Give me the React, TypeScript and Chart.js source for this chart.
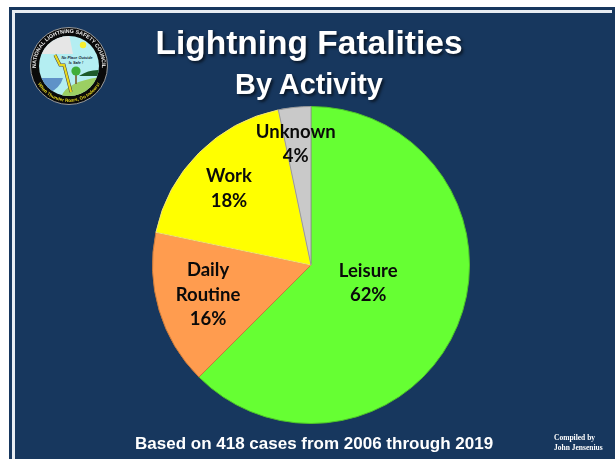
import React, { useEffect, useRef } from "react";
import { Chart, registerables } from "chart.js";

Chart.register(...registerables);

const categories = ["Leisure", "Daily Routine", "Work", "Unknown"];
const shares = [62.5, 15.8, 18.4, 3.3];
const labelLines = [["Leisure", "62%"], ["Daily", "Routine", "16%"], ["Work", "18%"], ["Unknown", "4%"]];
const sliceColors = ["#66FF33", "#FF9C4F", "#FFFF00", "#C9C9C9"];
const sliceEdges = ["#4FC428", "#C9793A", "#F2E27A", "#9A9A9A"];
const titleText = "Lightning Fatalities";
const subtitleText = "By Activity";
const footerText = "Based on 418 cases from 2006 through 2019";
const creditLines = ["Compiled by", "John Jensenius"];

const labelOffsets = [[-16, -24.5], [-27, -5], [-26, -32.5], [-7, -54]];

const sliceLabels = {
  id: "sliceLabels",
  afterDatasetsDraw(chart: any) {
    const { ctx } = chart;
    const arcs = chart.getDatasetMeta(0).data;
    ctx.save();
    ctx.fillStyle = "#0a0a0a";
    ctx.font = 'bold 18.5px Lato, "Noto Sans", sans-serif';
    ctx.textAlign = "center";
    ctx.textBaseline = "middle";
    const lh = 24.5;
    arcs.forEach((arc: any, i: number) => {
      const p = arc.getCenterPoint();
      const lines = labelLines[i];
      const x = p.x + labelOffsets[i][0];
      const y = p.y + labelOffsets[i][1];
      lines.forEach((t, j) => ctx.fillText(t, x, y + j * lh - ((lines.length - 1) * lh) / 2 + 12));
    });
    ctx.restore();
  },
};

const abs = (o: React.CSSProperties): React.CSSProperties => ({ position: "absolute", ...o });

function Logo() {
  return (
    <svg width="80" height="80" viewBox="0 0 80 80" style={abs({ left: 29, top: 26, filter: "blur(0.35px)" })}>
      <defs>
        <clipPath id="inner"><circle cx="40" cy="40" r="30" /></clipPath>
        <path id="arcTop" d="M 10.1 53.9 A 33 33 0 1 1 69.9 53.9" />
        <path id="arcBot" d="M 6.2 52.3 A 36 36 0 0 0 73.8 52.3" />
      </defs>
      <circle cx="40" cy="40" r="38.5" fill="#0a0a0a" stroke="#9a9a9a" strokeWidth="1" />
      <g clipPath="url(#inner)">
        <rect x="0" y="0" width="80" height="80" fill="#b4eef2" />
        <path d="M 13 28 Q 13 16 24 10 L 40 8 L 44 28 Z" fill="#e6e6e6" />
        <circle cx="54" cy="19" r="3.2" fill="#f6ee30" />
        <path d="M 32 72 Q 36 54 80 50 V 80 H 30 Z" fill="#9ccf62" />
        <path d="M 8 52 H 34 Q 31 62 20 67 L 8 62 Z" fill="#5f92c8" />
        <path d="M 50 50 Q 60 43 72 44 V 50 Z" fill="#1d5a2a" />
        <rect x="46.2" y="48" width="1.6" height="10" fill="#7a5a2a" />
        <circle cx="47" cy="45" r="4.6" fill="#3fae3a" />
        <path d="M 26 29 L 31 39 L 35 39 L 42 66" fill="none" stroke="#444" strokeWidth="3.2" />
        <path d="M 26 29 L 31 39 L 35 39 L 42 66" fill="none" stroke="#e8d820" strokeWidth="2.2" />
        <text x="48" y="33" textAnchor="middle" fontSize="3.8" fontWeight="bold" fontStyle="italic" fontFamily="Liberation Sans" fill="#123">No Place Outside</text>
        <text x="47" y="38" textAnchor="middle" fontSize="3.8" fontWeight="bold" fontStyle="italic" fontFamily="Liberation Sans" fill="#123">Is Safe !</text>
      </g>
      <text fontSize="5.4" fontWeight="bold" fontFamily="Liberation Sans" fill="#ececec">
        <textPath href="#arcTop" startOffset="50%" textAnchor="middle">NATIONAL LIGHTNING SAFETY COUNCIL</textPath>
      </text>
      <text fontSize="4.6" fontWeight="bold" fontFamily="Liberation Sans" fill="#e8d820">
        <textPath href="#arcBot" startOffset="50%" textAnchor="middle">When Thunder Roars, Go Indoors!</textPath>
      </text>
    </svg>
  );
}

export default function App() {
  const ref = useRef<HTMLCanvasElement>(null);
  useEffect(() => {
    document.body.style.margin = "0";
    document.body.style.background = "#fff";
    const chart = new Chart(ref.current!, {
      type: "pie",
      data: {
        labels: categories,
        datasets: [{ data: shares, backgroundColor: sliceColors, borderColor: sliceEdges, borderWidth: 1 }],
      },
      options: {
        animation: false,
        responsive: false,
        devicePixelRatio: 1,
        layout: { padding: { left: 152, right: 145, top: 105.5, bottom: 34.5 } },
        plugins: { legend: { display: false }, tooltip: { enabled: false } },
      },
      plugins: [sliceLabels],
    });
    return () => chart.destroy();
  }, []);
  const sans = '"Liberation Sans", Arial, sans-serif';
  const shadow = "2px 2px 3px rgba(0,0,0,0.6)";
  return (
    <div style={{ position: "relative", width: 615, height: 459, overflow: "hidden", background: "#fff" }}>
      <div style={abs({ left: 9, top: 7, right: 0, bottom: 0, background: "#17375E" })} />
      <div style={abs({ left: 12, top: 10, right: 3, bottom: 0, background: "#E8EDF3" })} />
      <div style={abs({ left: 15, top: 13, right: 3, bottom: 0, background: "#17375E" })} />
      <Logo />
      <div style={abs({ left: 0, width: 618, top: 23, textAlign: "center", color: "#fff", font: `bold 33.5px ${sans}`, textShadow: shadow, lineHeight: "40px" })}>{titleText}</div>
      <div style={abs({ left: 0, width: 618, top: 67, textAlign: "center", color: "#fff", font: `bold 28.8px ${sans}`, textShadow: shadow, lineHeight: "34px" })}>{subtitleText}</div>
      <canvas ref={ref} width={615} height={459} style={abs({ left: 0, top: 0 })} />
      <div style={abs({ left: 135, top: 434, color: "#fff", font: `bold 17px ${sans}`, whiteSpace: "nowrap", lineHeight: "20px" })}>{footerText}</div>
      <div style={abs({ left: 554, top: 433, color: "#fff", font: "bold 7.5px 'Liberation Serif', serif", lineHeight: "10px", whiteSpace: "nowrap" })}>
        {creditLines.map((t) => <div key={t}>{t}</div>)}
      </div>
    </div>
  );
}
